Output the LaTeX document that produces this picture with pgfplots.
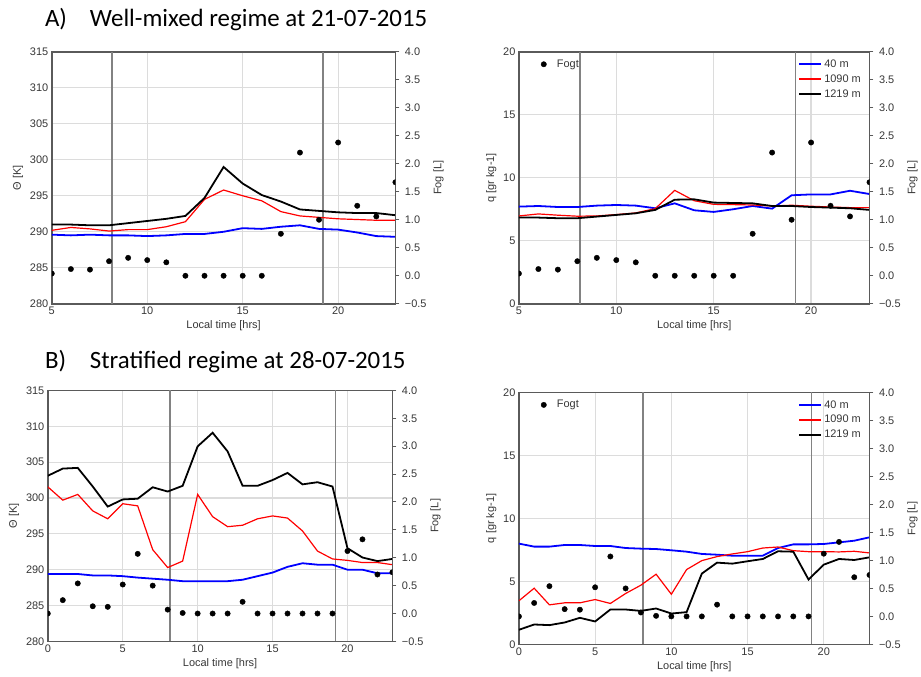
\documentclass[border=0pt]{standalone}
\usepackage{fontspec}
\setmainfont{Liberation Sans}
\newfontfamily\titlefont{Carlito}
\usepackage{pgfplots}
\usepackage{pgfplotstable}
\pgfplotsset{compat=1.18}
\definecolor{axgray}{RGB}{90,90,90}
\definecolor{gridgray}{RGB}{220,220,220}
\definecolor{txtgray}{RGB}{55,55,55}
\definecolor{vlinec}{RGB}{130,130,130}
\definecolor{pured}{RGB}{255,0,0}
\definecolor{pureblue}{RGB}{0,0,255}

\pgfplotstableread{
t blue red black fog
5 289.6 290.2 291.0 0.04
6 289.5 290.6 291.0 0.12
7 289.6 290.4 290.9 0.11
8 289.5 290.1 290.9 0.26
9 289.5 290.3 291.2 0.32
10 289.4 290.3 291.5 0.28
11 289.5 290.7 291.8 0.24
12 289.7 291.4 292.2 0.0
13 289.7 294.5 294.7 0.0
14 290.0 295.8 299.0 0.0
15 290.5 295.0 296.7 0.0
16 290.4 294.3 295.1 0.0
17 290.7 292.8 294.2 0.75
18 290.9 292.2 293.1 2.20
19 290.4 292.0 292.9 1.00
20 290.3 291.8 292.7 2.38
21 289.9 291.7 292.6 1.25
22 289.4 291.6 292.6 1.06
23 289.3 291.6 292.3 1.67
}\dataAth

\pgfplotstableread{
t blue red black
5 7.71 6.97 6.84
6 7.76 7.13 6.84
7 7.68 7.03 6.79
8 7.68 6.95 6.79
9 7.79 6.97 6.92
10 7.84 7.08 7.05
11 7.79 7.21 7.18
12 7.58 7.55 7.45
13 7.97 9.00 8.26
14 7.42 8.18 8.29
15 7.29 7.89 8.03
16 7.50 7.87 8.00
17 7.76 7.84 7.97
18 7.55 7.76 7.76
19 8.61 7.82 7.76
20 8.68 7.74 7.68
21 8.68 7.68 7.63
22 8.97 7.63 7.58
23 8.71 7.63 7.45
}\dataAq

\pgfplotstableread{
t blue red black fog
0 289.4 301.55 303.1 0.0
1 289.4 299.7 304.1 0.24
2 289.4 300.5 304.2 0.54
3 289.2 298.2 301.6 0.13
4 289.2 297.1 298.8 0.12
5 289.1 299.2 299.8 0.52
6 288.9 298.9 299.9 1.07
7 288.75 292.8 301.5 0.50
8 288.6 290.3 300.9 0.07
9 288.4 291.2 301.7 0.01
10 288.4 300.5 307.2 0.0
11 288.4 297.4 309.1 0.0
12 288.4 296.0 306.5 0.0
13 288.6 296.2 301.7 0.21
14 289.1 297.1 301.7 0.0
15 289.6 297.5 302.5 0.0
16 290.4 297.2 303.5 0.0
17 290.9 295.4 301.9 0.0
18 290.7 292.6 302.2 0.0
19 290.7 291.5 301.6 0.0
20 290.0 291.3 293.0 1.12
21 290.0 291.0 291.7 1.33
22 289.5 291.0 291.2 0.70
23 289.5 290.7 291.5 0.74
}\dataBth

\pgfplotstableread{
t blue red black
0 8.00 3.46 1.16
1 7.76 4.46 1.58
2 7.76 3.14 1.53
3 7.89 3.30 1.74
4 7.89 3.30 2.11
5 7.81 3.56 1.82
6 7.81 3.25 2.77
7 7.65 4.04 2.77
8 7.60 4.70 2.66
9 7.57 5.57 2.85
10 7.47 3.98 2.45
11 7.36 5.94 2.56
12 7.18 6.65 5.62
13 7.12 6.97 6.49
14 7.04 7.18 6.41
15 7.04 7.36 6.60
16 7.04 7.65 6.78
17 7.65 7.73 7.39
18 7.94 7.44 7.36
19 7.94 7.36 5.15
20 7.97 7.36 6.33
21 8.10 7.34 6.78
22 8.23 7.39 6.70
23 8.50 7.26 6.91
}\dataBq

\pgfplotsset{
  base/.style={scale only axis, anchor=south west, clip marker paths=true,
    /pgf/number format/assume math mode=true,
    tick label style={font=\fontsize{11}{12}\selectfont, text=txtgray},
    label style={font=\fontsize{11}{12}\selectfont, text=txtgray},
    axis line style={axgray, line width=1.6pt}},
  mainax/.style={base, grid=major, grid style={gridgray, line width=1.2pt},
    major tick length=0pt, tick style={draw=none},
    xlabel={Local time [hrs]}, xlabel style={yshift=1pt}},
  fogax/.style={base, axis y line*=right, axis x line=none,
    ymin=-0.5, ymax=4, ytick={-0.5,0,0.5,1,1.5,2,2.5,3,3.5,4},
    yticklabels={−0.5,0.0,0.5,1.0,1.5,2.0,2.5,3.0,3.5,4.0},
    ylabel={Fog [L]},
    major tick length=4pt, tick style={axgray, line width=1pt}, ytick align=outside,
    yticklabel style={xshift=2pt}},
  fg/.style={only marks, mark=*, mark size=2.7pt, black},
  vl/.style={vlinec, line width=1.8pt, forget plot},
  bl/.style={draw=pureblue, line width=1.8pt, forget plot},
  rd/.style={draw=pured, line width=1.2pt, forget plot},
  bk/.style={draw=black, line width=1.8pt, forget plot},
  lgd/.style={legend style={draw=none, fill=none, font=\fontsize{11}{12}\selectfont\color{txtgray}, row sep=1.8pt},
    legend cell align=left},
  linelgd/.style={lgd, legend style={at={(0.99,0.985)}, anchor=north east},
    legend image code/.code={\draw[##1] (0pt,0pt) -- (22pt,0pt);}},
  foglgd/.style={lgd, legend style={at={(0.03,0.985)}, anchor=north west},
    legend image code/.code={\path (0pt,0pt) (22pt,0pt); \fill[black] (11pt,0pt) circle (2.7pt);}}
}

\newcommand{\linelegend}{%
  \addlegendimage{draw=pureblue, line width=1.8pt}\addlegendentry{40 m}
  \addlegendimage{draw=pured, line width=1.6pt}\addlegendentry{1090 m}
  \addlegendimage{draw=black, line width=1.8pt}\addlegendentry{1219 m}}

\begin{document}
\begin{tikzpicture}[x=1pt,y=1pt]
\path (0,0) rectangle (921,679);
\node[anchor=base west, inner sep=0pt, font=\titlefont\fontsize{25}{28}\selectfont] at (45,652) {A)};
\node[anchor=base west, inner sep=0pt, font=\titlefont\fontsize{25}{28}\selectfont] at (90,652) {Well-mixed regime at 21-07-2015};
\node[anchor=base west, inner sep=0pt, font=\titlefont\fontsize{25}{28}\selectfont] at (45,309) {B)};
\node[anchor=base west, inner sep=0pt, font=\titlefont\fontsize{25}{28}\selectfont] at (90,309) {Stratified regime at 28-07-2015};

% ---------- A left ----------
\begin{axis}[mainax, at={(52pt,374pt)}, width=345pt, height=253pt,
  xmin=5, xmax=23, ymin=280, ymax=315, xtick={5,10,15,20}, ytick={280,285,...,315},
  ylabel={Θ [K]}]
\addplot[vl] coordinates {(8.15,280) (8.15,315)};
\addplot[vl] coordinates {(19.2,280) (19.2,315)};
\addplot[bl] table[x=t,y=blue] {\dataAth};
\addplot[rd] table[x=t,y=red] {\dataAth};
\addplot[bk] table[x=t,y=black] {\dataAth};
\end{axis}
\begin{axis}[fogax, at={(52pt,374pt)}, width=345pt, height=253pt, xmin=5, xmax=23]
\addplot[fg] table[x=t,y=fog] {\dataAth};
\end{axis}

% ---------- A right ----------
\begin{axis}[mainax, linelgd, at={(521pt,374pt)}, width=352pt, height=253pt,
  xmin=5, xmax=23, ymin=0, ymax=20, xtick={5,10,15,20}, ytick={0,5,...,20},
  ylabel={q [gr kg-1]}]
\addplot[vl] coordinates {(8.15,0) (8.15,20)};
\addplot[vl] coordinates {(19.2,0) (19.2,20)};
\addplot[bl] table[x=t,y=blue] {\dataAq};
\addplot[rd] table[x=t,y=red] {\dataAq};
\addplot[bk] table[x=t,y=black] {\dataAq};
\linelegend
\end{axis}
\begin{axis}[fogax, foglgd, at={(521pt,374pt)}, width=352pt, height=253pt, xmin=5, xmax=23]
\addplot[fg] table[x=t,y=fog] {\dataAth};
\addlegendentry{Fogt}
\end{axis}

% ---------- B left ----------
\begin{axis}[mainax, at={(48pt,35pt)}, width=346pt, height=252pt,
  xmin=0, xmax=23, ymin=280, ymax=315, xtick={0,5,10,15,20}, ytick={280,285,...,315},
  ylabel={Θ [K]}]
\addplot[vl] coordinates {(8.15,280) (8.15,315)};
\addplot[vl] coordinates {(19.2,280) (19.2,315)};
\addplot[bl] table[x=t,y=blue] {\dataBth};
\addplot[rd] table[x=t,y=red] {\dataBth};
\addplot[bk] table[x=t,y=black] {\dataBth};
\end{axis}
\begin{axis}[fogax, at={(48pt,35pt)}, width=346pt, height=252pt, xmin=0, xmax=23]
\addplot[fg] table[x=t,y=fog] {\dataBth};
\end{axis}

% ---------- B right ----------
\begin{axis}[mainax, linelgd, at={(521pt,32pt)}, width=352pt, height=253pt,
  xmin=0, xmax=23, ymin=0, ymax=20, xtick={0,5,10,15,20}, ytick={0,5,...,20},
  ylabel={q [gr kg-1]}]
\addplot[vl] coordinates {(8.15,0) (8.15,20)};
\addplot[vl] coordinates {(19.2,0) (19.2,20)};
\addplot[bl] table[x=t,y=blue] {\dataBq};
\addplot[rd] table[x=t,y=red] {\dataBq};
\addplot[bk] table[x=t,y=black] {\dataBq};
\linelegend
\end{axis}
\begin{axis}[fogax, foglgd, at={(521pt,32pt)}, width=352pt, height=253pt, xmin=0, xmax=23]
\addplot[fg] table[x=t,y=fog] {\dataBth};
\addlegendentry{Fogt}
\end{axis}
\end{tikzpicture}
\end{document}
